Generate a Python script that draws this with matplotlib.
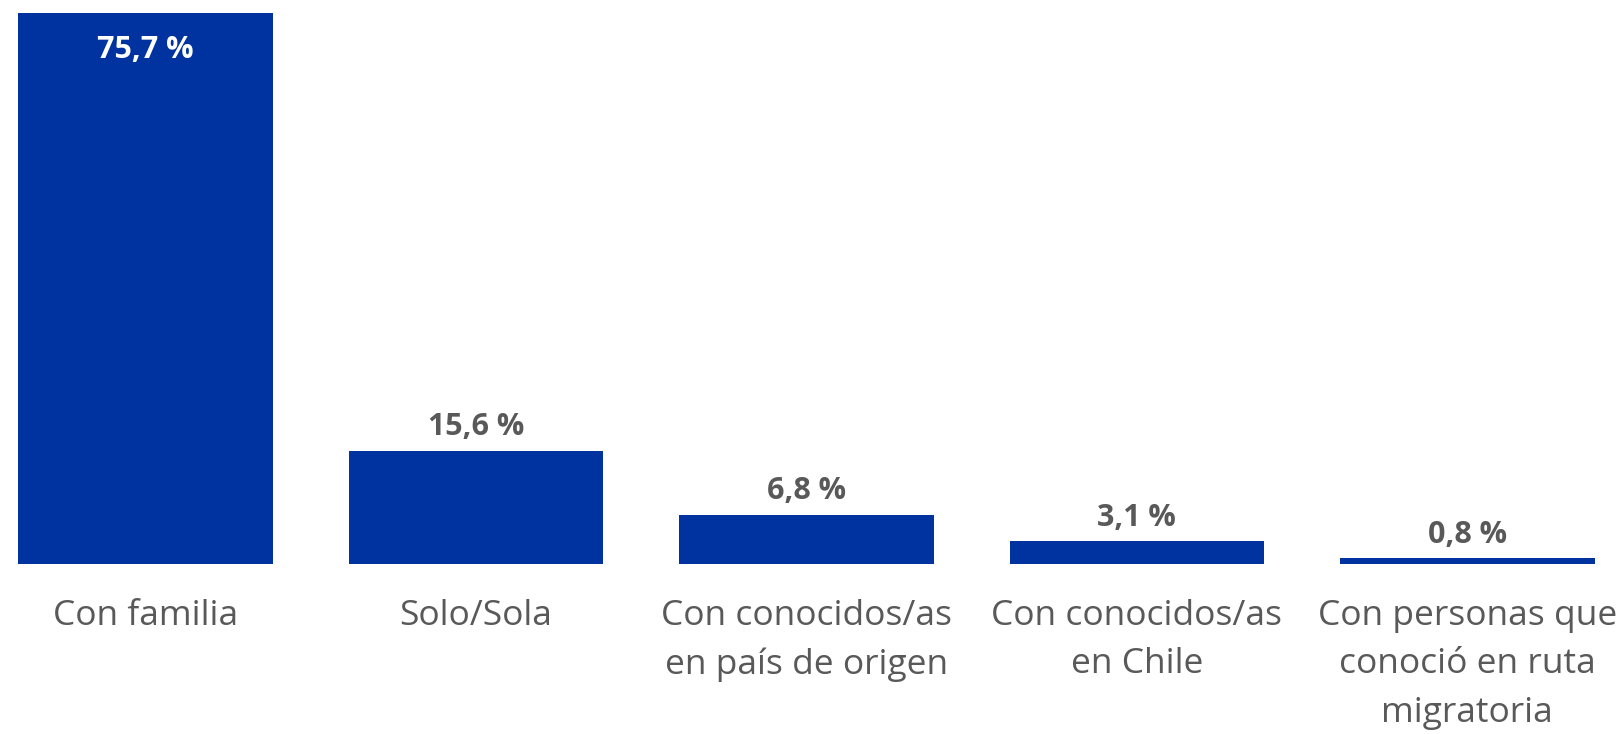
import matplotlib.pyplot as plt

plt.rcParams['font.family'] = ['Open Sans', 'DejaVu Sans']

categories = ['Con familia', 'Solo/Sola', 'Con conocidos/as\nen país de origen',
              'Con conocidos/as\nen Chile', 'Con personas que\nconoció en ruta\nmigratoria']
values = [75.7, 15.6, 6.8, 3.1, 0.8]
value_labels = ['75,7 %', '15,6 %', '6,8 %', '3,1 %', '0,8 %']

blue = '#0033A0'
grey = '#595959'

fig = plt.figure(figsize=(16.22, 7.34), dpi=100)
ax = fig.add_axes([0, 0.2316, 1, 0.9817 - 0.2316])

x = range(len(categories))
ax.bar(x, values, width=0.77, color=blue)

ax.set_xlim(-0.4406, 4.468)
ax.set_ylim(0, 75.7)

for i, (v, lab) in enumerate(zip(values, value_labels)):
    if i == 0:
        ax.annotate(lab, (i, v), xytext=(0, -26), textcoords='offset points',
                    ha='center', va='center', fontsize=22, fontweight='bold', color='white')
    else:
        ax.annotate(lab, (i, v), xytext=(0, 17), textcoords='offset points',
                    ha='center', va='center', fontsize=22, fontweight='bold', color=grey)

ax.set_xticks(list(x))
ax.set_xticklabels(categories, fontsize=25.5, color=grey, linespacing=1.56)
ax.tick_params(axis='x', length=0, pad=25)
ax.set_yticks([])
for s in ax.spines.values():
    s.set_visible(False)

plt.savefig('out.png', dpi=100)
